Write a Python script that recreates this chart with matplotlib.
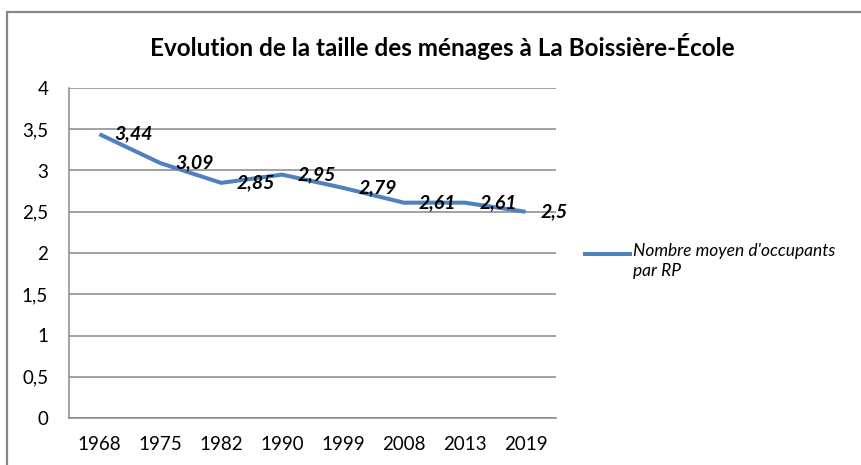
import matplotlib
matplotlib.use("Agg")
import matplotlib.pyplot as plt
from matplotlib.patches import Rectangle
from matplotlib.lines import Line2D

years = ["1968", "1975", "1982", "1990", "1999", "2008", "2013", "2019"]
values = [3.44, 3.09, 2.85, 2.95, 2.79, 2.61, 2.61, 2.5]
value_labels = ["3,44", "3,09", "2,85", "2,95", "2,79", "2,61", "2,61", "2,5"]
yticks = [0, 0.5, 1, 1.5, 2, 2.5, 3, 3.5, 4]
ytick_labels = ["0", "0,5", "1", "1,5", "2", "2,5", "3", "3,5", "4"]
series_name = "Nombre moyen d'occupants\npar RP"
title = "Evolution de la taille des ménages à La Boissière-École"

plt.rcParams['font.family'] = ['Lato', 'DejaVu Sans']

W, H = 861, 465
fig = plt.figure(figsize=(W / 100, H / 100), dpi=100)
fig.patch.set_facecolor("white")

# outer chart border
fig.patches.append(Rectangle((7 / W, -0.1), 1.2, 1 - 12 / H + 0.1,
                             transform=fig.transFigure, fill=False,
                             edgecolor="#878787", lw=1.6, clip_on=False))

ax = fig.add_axes([69 / W, 1 - 418 / H, (556 - 69) / W, (418 - 88) / H])
x = list(range(len(years)))
color = "#4F81BD"
ax.plot(x, values, color=color, lw=2.9, solid_capstyle="butt", zorder=3)

for xi, v, lab in zip(x, values, value_labels):
    ax.annotate(lab, (xi, v), xytext=(11, 0), textcoords="offset points",
                ha="left", va="center", fontsize=14, fontweight="bold",
                fontstyle="italic", color="black", zorder=4)

ax.set_xlim(-0.5, len(years) - 0.5)
ax.set_ylim(0, 4)
ax.set_yticks(yticks)
ax.set_yticklabels(ytick_labels)
ax.set_xticks(x)
ax.set_xticklabels(years)
ax.tick_params(axis="both", length=0, labelsize=13.5, colors="black")
ax.tick_params(axis="y", pad=15)
ax.tick_params(axis="x", pad=13)
ax.grid(axis="y", color="#888888", lw=1.1)
ax.set_axisbelow(True)
for s in ["top", "right"]:
    ax.spines[s].set_visible(False)
ax.spines["left"].set_color("#888888")
ax.spines["bottom"].set_color("#888888")
ax.spines["left"].set_linewidth(1.1)
ax.spines["bottom"].set_linewidth(1.1)

fig.text(442 / W, 1 - 46 / H, title, ha="center", va="center",
         fontsize=17.5, fontweight="bold")

# legend
fig.add_artist(Line2D([585 / W, 630 / W], [1 - 254 / H, 1 - 254 / H],
                      transform=fig.transFigure, color=color, lw=2.9))
fig.text(633 / W, 1 - 243 / H, series_name, ha="left", va="top",
         fontsize=12.5, fontstyle="italic", linespacing=1.3)

fig.savefig("out.png", dpi=100)
